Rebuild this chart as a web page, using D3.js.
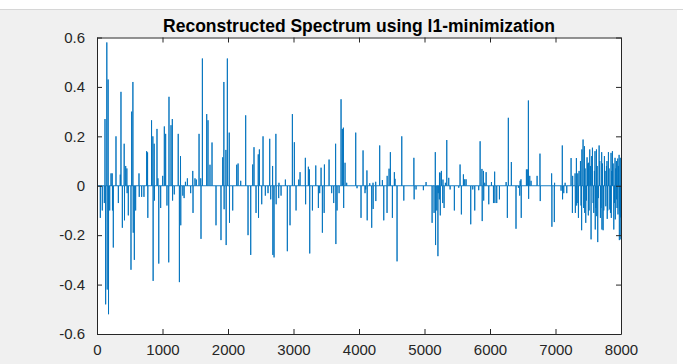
<!DOCTYPE html>
<html>
<head>
<meta charset="utf-8">
<script src="https://cdn.jsdelivr.net/npm/d3@7"></script>
<style>
  body { margin: 0; background: #fff; }
  text { font-family: "Liberation Sans", Arial, sans-serif; }
</style>
</head>
<body>
<svg id="chart" width="683" height="364"></svg>
<script>
// spike positions (sample index) and amplitudes
var spikeIdx = [
  51, 81, 112, 122, 132, 150, 156, 170, 176, 194, 214, 232, 236, 249, 290, 326, 355, 366, 387, 415,
  420, 438, 456, 460, 478, 519, 529, 548, 553, 570, 590, 641, 645, 682, 717, 758, 772, 776, 833, 853,
  857, 873, 877, 916, 930, 943, 972, 1003, 1028, 1048, 1068, 1095, 1099, 1130, 1150, 1154, 1180, 1240, 1258, 1275,
  1279, 1310, 1330, 1350, 1380, 1430, 1462, 1466, 1496, 1516, 1558, 1584, 1588, 1609, 1675, 1695, 1725, 1756, 1817, 1893,
  1919, 1937, 1941, 1968, 1972, 1990, 2019, 2023, 2072, 2133, 2154, 2194, 2270, 2306, 2347, 2377, 2397, 2428, 2462, 2466,
  2479, 2515, 2535, 2570, 2611, 2637, 2652, 2681, 2685, 2703, 2731, 2735, 2774, 2778, 2810, 2876, 2906, 2947, 2983, 3013,
  3039, 3080, 3100, 3181, 3185, 3227, 3244, 3248, 3289, 3340, 3380, 3400, 3421, 3441, 3468, 3472, 3543, 3583, 3614, 3643,
  3647, 3665, 3696, 3726, 3746, 3762, 3766, 3787, 3812, 3950, 3970, 4031, 4062, 4092, 4103, 4121, 4125, 4164, 4194, 4214,
  4216, 4255, 4257, 4316, 4357, 4378, 4428, 4430, 4459, 4479, 4510, 4540, 4550, 4581, 4653, 4684, 4838, 4842, 4871, 4983,
  5024, 5116, 5146, 5165, 5169, 5187, 5205, 5209, 5227, 5229, 5237, 5241, 5258, 5278, 5282, 5299, 5319, 5340, 5370, 5391,
  5456, 5523, 5543, 5563, 5594, 5614, 5635, 5706, 5737, 5767, 5828, 5849, 5877, 5881, 5900, 5904, 5920, 5941, 5981, 6022,
  6053, 6071, 6075, 6103, 6144, 6246, 6265, 6280, 6326, 6397, 6434, 6454, 6460, 6473, 6477, 6556, 6576, 6586, 6590, 6607,
  6627, 6719, 6763, 6767, 6941, 6945, 6982, 6986, 7085, 7104, 7108, 7126, 7147, 7172, 7238, 7258, 7262, 7299, 7303, 7319,
  7323, 7330, 7340, 7350, 7360, 7381, 7390, 7399, 7403, 7421, 7430, 7442, 7446, 7452, 7462, 7472, 7482, 7491, 7501, 7505,
  7513, 7523, 7533, 7543, 7553, 7564, 7574, 7584, 7594, 7603, 7607, 7615, 7625, 7629, 7636, 7645, 7655, 7666, 7676, 7686,
  7695, 7705, 7709, 7717, 7727, 7737, 7747, 7757, 7768, 7778, 7786, 7790, 7798, 7808, 7818, 7829, 7839, 7848, 7852, 7859,
  7869, 7880, 7890, 7900, 7909, 7913, 7920, 7930, 7934, 7940, 7950, 7954, 7961, 7971, 7975, 7981, 7989, 7993, 7998
];
var spikeVal = [
  -0.13, -0.10, -0.07, 0.27, -0.48, 0.58, -0.42, 0.43, -0.52, -0.10, 0.05, 0.05, -0.10, -0.25, 0.20, -0.07, 0.045, 0.38, -0.17, 0.17,
  -0.14, 0.08, 0.07, -0.03, -0.12, -0.34, 0.30, 0.42, -0.19, -0.30, -0.10, 0.05, -0.045, -0.045, -0.045, 0.14, 0.135, -0.13, 0.265, 0.20,
  -0.385, 0.17, -0.06, 0.23, 0.03, -0.315, -0.09, 0.04, 0.24, 0.21, -0.08, -0.31, 0.36, 0.245, 0.27, -0.06, -0.035, 0.21, -0.39, 0.12,
  -0.16, -0.04, -0.05, 0.016, 0.03, -0.03, 0.06, -0.11, 0.03, 0.025, 0.21, 0.03, -0.215, 0.515, 0.29, 0.265, 0.085, 0.175, -0.16, -0.22,
  0.115, 0.42, -0.095, 0.145, -0.24, 0.515, 0.215, -0.15, -0.10, 0.085, 0.09, 0.02, 0.285, -0.20, -0.28, 0.086, 0.156, -0.11, 0.127, -0.13,
  0.147, -0.075, 0.20, -0.04, -0.03, 0.19, -0.055, 0.08, -0.28, -0.29, 0.21, -0.075, -0.05, 0.012, -0.04, 0.025, -0.265, -0.16, 0.29, 0.176,
  -0.10, 0.025, 0.055, 0.113, -0.075, 0.077, 0.066, -0.274, -0.10, 0.082, -0.09, -0.03, 0.073, -0.19, -0.11, 0.086, 0.106, -0.03, -0.07, 0.17,
  -0.236, -0.10, -0.03, 0.35, 0.23, 0.235, -0.09, 0.093, 0.012, 0.215, -0.01, -0.13, 0.143, -0.03, -0.015, 0.062, -0.14, 0.01, -0.17, 0.012,
  -0.094, 0.016, -0.062, 0.163, 0.023, -0.14, -0.11, 0.04, 0.069, 0.136, -0.13, 0.055, 0.028, -0.306, 0.20, -0.06, 0.113, -0.055, -0.015, -0.018,
  0.015, -0.15, -0.11, 0.136, -0.24, -0.10, -0.285, -0.03, -0.055, 0.053, 0.053, -0.12, 0.06, -0.07, 0.025, -0.09, 0.012, 0.185, 0.032, -0.015,
  -0.10, -0.008, 0.086, -0.116, 0.046, 0.026, 0.026, -0.156, -0.015, -0.10, -0.018, 0.18, 0.068, -0.143, 0.06, -0.06, 0.012, 0.055, -0.075, 0.015,
  -0.07, 0.057, -0.07, -0.07, -0.055, 0.015, -0.13, 0.275, 0.096, -0.174, -0.008, -0.04, 0.02, 0.026, -0.13, 0.066, 0.066, 0.345, -0.053, 0.04,
  0.02, 0.04, 0.13, -0.062, 0.05, -0.166, -0.147, 0.012, -0.02, 0.163, -0.055, -0.03, 0.012, -0.03, 0.112, -0.11, 0.04, 0.05, -0.11, 0.112,
  -0.08, -0.07, 0.05, -0.13, 0.06, 0.10, -0.08, -0.18, 0.147, 0.187, -0.09, 0.16, -0.11, 0.07, -0.15, -0.06, 0.115, 0.09, -0.12, 0.093,
  -0.10, 0.147, 0.08, -0.217, 0.12, 0.154, -0.07, -0.11, 0.06, 0.14, -0.177, -0.09, 0.147, -0.123, 0.08, -0.228, -0.05, 0.163, 0.10, -0.13,
  -0.09, 0.136, -0.177, 0.09, -0.18, -0.10, 0.12, 0.06, -0.083, 0.08, 0.10, -0.134, -0.10, 0.136, 0.07, -0.096, -0.11, 0.133, -0.13, 0.06,
  0.14, 0.09, -0.177, -0.07, 0.113, -0.136, 0.07, 0.10, -0.055, -0.09, 0.11, -0.116, 0.08, 0.125, -0.22, -0.10, 0.113, -0.128, -0.217
];
var xTicks = [0, 1000, 2000, 3000, 4000, 5000, 6000, 7000, 8000];
var yTicks = [-0.6, -0.4, -0.2, 0, 0.2, 0.4, 0.6];
var title = "Reconstructed Spectrum using l1-minimization";

var svg = d3.select("#chart"),
  margin = { top: 37.5, right: 62, bottom: 30, left: 97 },
  W = 683, H = 364;

// figure background (window area)
svg.append("rect").attr("x", 0).attr("y", 9).attr("width", 677).attr("height", H - 9).attr("fill", "#f0f0f0");
svg.append("line").attr("x1", 0).attr("x2", W).attr("y1", 9.5).attr("y2", 9.5).attr("stroke", "#d6d6d6");

var x = d3.scaleLinear().domain([0, 8000]).range([margin.left, W - margin.right]);
var y = d3.scaleLinear().domain([-0.6, 0.6]).range([H - margin.bottom, margin.top]);

svg.append("rect")
  .attr("x", x(0)).attr("y", y(0.6))
  .attr("width", x(8000) - x(0)).attr("height", y(-0.6) - y(0.6))
  .attr("fill", "#fff");

// build the signal path: zero baseline with a spike at every listed sample
var pts = [[0, 0]];
spikeIdx.forEach(function (i, k) {
  pts.push([i - 1, 0], [i, spikeVal[k]], [i + 1, 0]);
});
pts.push([8000, 0]);

var line = d3.line().x(d => x(d[0])).y(d => y(d[1]));

svg.append("path")
  .datum(pts)
  .attr("d", line)
  .attr("fill", "none")
  .attr("stroke", "#0072bd")
  .attr("stroke-width", 0.9)
  .attr("stroke-linejoin", "round");

// axes, MATLAB style: box with inward ticks
var axisColor = "#262626";
const yFmt = d => d === 0 ? "0" : d3.format(".1f")(d).replace("\u2212", "-");
var gx = svg.append("g").attr("transform", "translate(0," + y(-0.6) + ")")
  .call(d3.axisBottom(x).tickValues(xTicks).tickSizeInner(-5).tickSizeOuter(0).tickPadding(10).tickFormat(d3.format("d")));
var gxt = svg.append("g").attr("transform", "translate(0," + y(0.6) + ")")
  .call(d3.axisTop(x).tickValues(xTicks).tickSizeInner(-5).tickSizeOuter(0).tickFormat(""));
var gy = svg.append("g").attr("transform", "translate(" + x(0) + ",0)")
  .call(d3.axisLeft(y).tickValues(yTicks).tickSizeInner(-5).tickSizeOuter(0).tickPadding(12).tickFormat(yFmt));
var gyr = svg.append("g").attr("transform", "translate(" + x(8000) + ",0)")
  .call(d3.axisRight(y).tickValues(yTicks).tickSizeInner(-5).tickSizeOuter(0).tickFormat(""));

[gx, gxt, gy, gyr].forEach(function (g) {
  g.selectAll(".domain").attr("stroke", axisColor);
  g.selectAll(".tick line").attr("stroke", axisColor);
  g.selectAll("text").attr("fill", axisColor).style("font-size", "15px")
    .style("font-family", "'Liberation Sans', Arial, sans-serif");
});

svg.append("text")
  .attr("x", (x(0) + x(8000)) / 2)
  .attr("y", 32)
  .attr("text-anchor", "middle")
  .style("font-size", "17.5px")
  .style("font-weight", "bold")
  .attr("fill", "#000")
  .text(title);
</script>
</body>
</html>
